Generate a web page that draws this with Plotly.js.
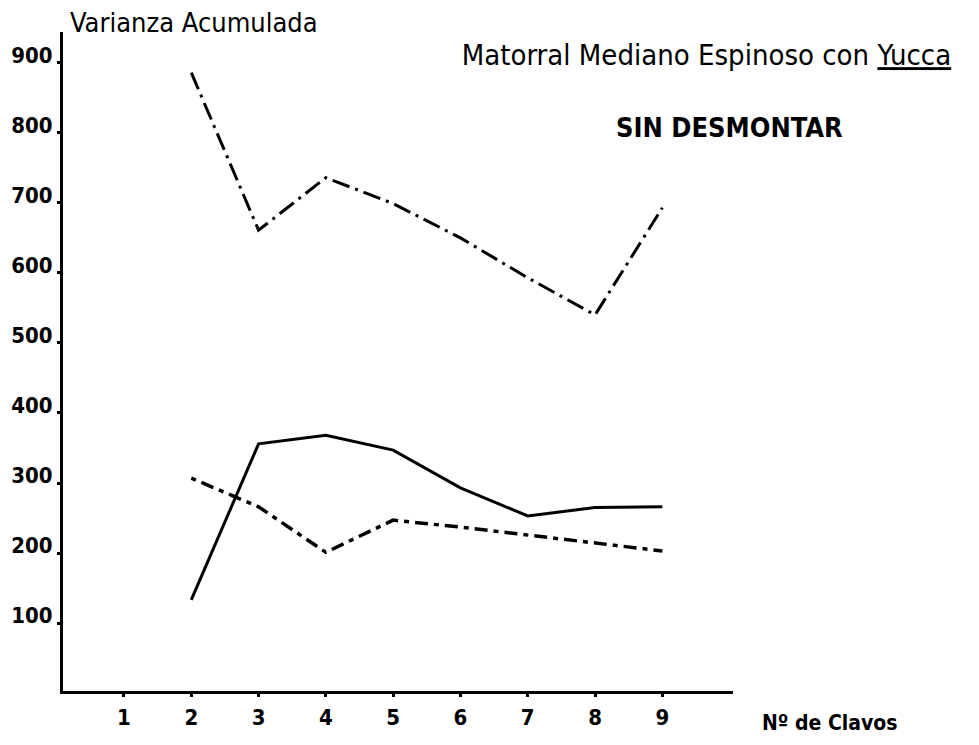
<!DOCTYPE html>
<html>
<head>
<meta charset="utf-8">
<script src="https://cdn.plot.ly/plotly-3.0.1.min.js"></script>
<style>
  html, body { margin: 0; padding: 0; background: #ffffff; }
  #chart { width: 979px; height: 745px; }
</style>
</head>
<body>
<div id="chart"></div>
<script>
// Número de clavos (eje X)
const clavos = [2, 3, 4, 5, 6, 7, 8, 9];

// Varianza acumulada por serie
const serieContinua = [133, 356, 368, 347, 293, 253, 265, 266];
const seriePuntoRaya = [307, 266, 201, 247, 237, 226, 214, 203];
const serieDiscontinua = [886, 661, 736, 699, 650, 593, 540, 693];

// Etiquetas de los ejes
const ticksX = [1, 2, 3, 4, 5, 6, 7, 8, 9];
const ticksY = [100, 200, 300, 400, 500, 600, 700, 800, 900];
const etiquetasY = ['100', '200', '300', '400', '500', '600', '700', '800', '900'];

const tinta = '#000000';
const letra = '"DejaVu Sans Condensed", "DejaVu Sans", sans-serif';

const traces = [
  {
    x: clavos, y: serieContinua, mode: 'lines', type: 'scatter',
    line: { color: tinta, width: 3 }, hoverinfo: 'skip'
  },
  {
    x: clavos, y: seriePuntoRaya, mode: 'lines', type: 'scatter',
    line: { color: tinta, width: 3.5, dash: '5px,6px,13px,6px' }, hoverinfo: 'skip'
  },
  {
    x: clavos, y: serieDiscontinua, mode: 'lines', type: 'scatter',
    line: { color: tinta, width: 3, dash: '18px,6px,3px,6px' }, hoverinfo: 'skip'
  }
];

const layout = {
  width: 979, height: 745,
  paper_bgcolor: '#ffffff', plot_bgcolor: '#ffffff',
  showlegend: false,
  margin: { l: 63, r: 246, t: 32, b: 54 },
  title: {
    text: 'Matorral Mediano Espinoso con <u>Yucca</u>',
    font: { family: letra, size: 29, color: tinta },
    xref: 'paper', x: 0.9604, xanchor: 'center',
    yref: 'container', y: 1 - 55 / 745, yanchor: 'middle'
  },
  xaxis: {
    range: [0.094, 10.05],
    tickvals: ticksX, ticktext: ticksX.map(String),
    showgrid: false, zeroline: false,
    showline: true, linecolor: tinta, linewidth: 3,
    ticks: 'outside', ticklen: 3, tickwidth: 3, tickcolor: tinta,
    ticklabelstandoff: 2,
    tickfont: { family: letra, size: 22, color: tinta, weight: 'bold' }
  },
  yaxis: {
    range: [3, 944],
    tickvals: ticksY, ticktext: etiquetasY,
    showgrid: false, zeroline: false,
    showline: true, linecolor: tinta, linewidth: 3,
    ticks: 'outside', ticklen: 3, tickwidth: 3, tickcolor: tinta,
    ticklabelshift: -8,
    tickfont: { family: letra, size: 22, color: tinta, weight: 'bold' }
  },
  annotations: [
    {
      text: 'Varianza Acumulada', showarrow: false,
      xref: 'paper', yref: 'paper', x: 0.0075, y: (691 - 22) / 659,
      xanchor: 'left', yanchor: 'middle',
      font: { family: letra, size: 27, color: tinta }
    },
    {
      text: '<b>SIN DESMONTAR</b>', showarrow: false,
      xref: 'paper', yref: 'paper', x: 0.9955, y: (691 - 128) / 659,
      xanchor: 'center', yanchor: 'middle',
      font: { family: letra, size: 27, color: tinta }
    },
    {
      text: '<b>Nº de Clavos</b>', showarrow: false,
      xref: 'paper', yref: 'paper', x: 1.145, y: (691 - 723) / 659,
      xanchor: 'center', yanchor: 'middle',
      font: { family: letra, size: 21, color: tinta }
    }
  ]
};

Plotly.newPlot('chart', traces, layout, { displayModeBar: false, staticPlot: true });
</script>
</body>
</html>
